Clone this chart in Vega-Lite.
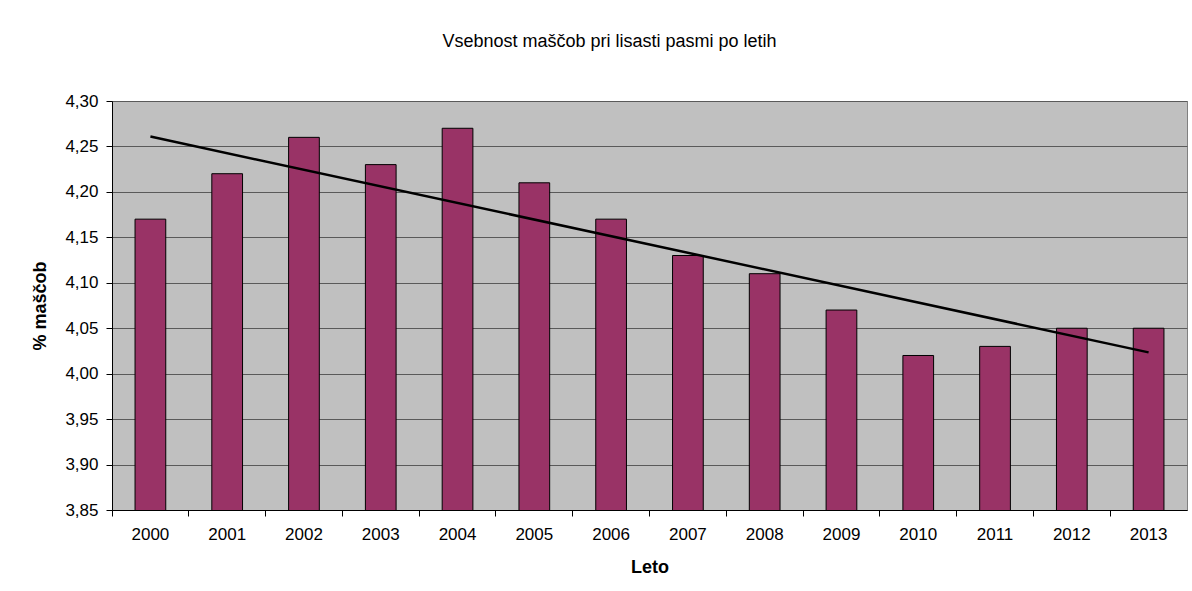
{
  "$schema": "https://vega.github.io/schema/vega-lite/v6.json",
  "width": 1075,
  "height": 409,
  "padding": {"left": 31, "top": 33, "right": 4, "bottom": 10},
  "background": "white",
  "title": {
    "text": "Vsebnost maščob pri lisasti pasmi po letih",
    "anchor": "middle",
    "frame": "bounds",
    "font": "Liberation Sans",
    "fontSize": 18,
    "fontWeight": "normal",
    "color": "black",
    "offset": 41
  },
  "data": {
    "values": [
      {"year": 2000, "fat": 4.17},
      {"year": 2001, "fat": 4.22},
      {"year": 2002, "fat": 4.26},
      {"year": 2003, "fat": 4.23},
      {"year": 2004, "fat": 4.27},
      {"year": 2005, "fat": 4.21},
      {"year": 2006, "fat": 4.17},
      {"year": 2007, "fat": 4.13},
      {"year": 2008, "fat": 4.11},
      {"year": 2009, "fat": 4.07},
      {"year": 2010, "fat": 4.02},
      {"year": 2011, "fat": 4.03},
      {"year": 2012, "fat": 4.05},
      {"year": 2013, "fat": 4.05}
    ]
  },
  "encoding": {
    "x": {
      "field": "year",
      "type": "ordinal",
      "scale": {"paddingInner": 0, "paddingOuter": 0},
      "axis": {
        "title": "Leto",
        "labelAngle": 0,
        "bandPosition": 0,
        "labelPadding": 10,
        "titlePadding": 16
      }
    },
    "y": {
      "field": "fat",
      "type": "quantitative",
      "scale": {"domain": [3.85, 4.3], "zero": false, "nice": false},
      "axis": {
        "title": "% maščob",
        "values": [3.85, 3.9, 3.95, 4.0, 4.05, 4.1, 4.15, 4.2, 4.25, 4.3],
        "labelExpr": "replace(format(datum.value, '.2f'), '.', ',')",
        "grid": true,
        "labelPadding": 8,
        "titlePadding": 15
      }
    }
  },
  "layer": [
    {
      "mark": {"type": "bar", "clip": true, "width": {"band": 0.4}, "fill": "#993366", "stroke": "black", "strokeWidth": 1}
    },
    {
      "transform": [{"regression": "fat", "on": "year"}],
      "mark": {"type": "line", "color": "black", "strokeWidth": 2.5}
    }
  ],
  "config": {
    "view": {"fill": "#C0C0C0", "stroke": "#808080", "strokeWidth": 1},
    "axis": {
      "labelFont": "Liberation Sans",
      "labelFontSize": 17,
      "labelColor": "black",
      "titleFont": "Liberation Sans",
      "titleFontSize": 18,
      "titleFontWeight": "bold",
      "titleColor": "black",
      "domainColor": "black",
      "domainWidth": 1,
      "tickColor": "black",
      "tickSize": 6,
      "tickWidth": 1,
      "gridColor": "#5a5a5a",
      "gridWidth": 1
    }
  }
}
